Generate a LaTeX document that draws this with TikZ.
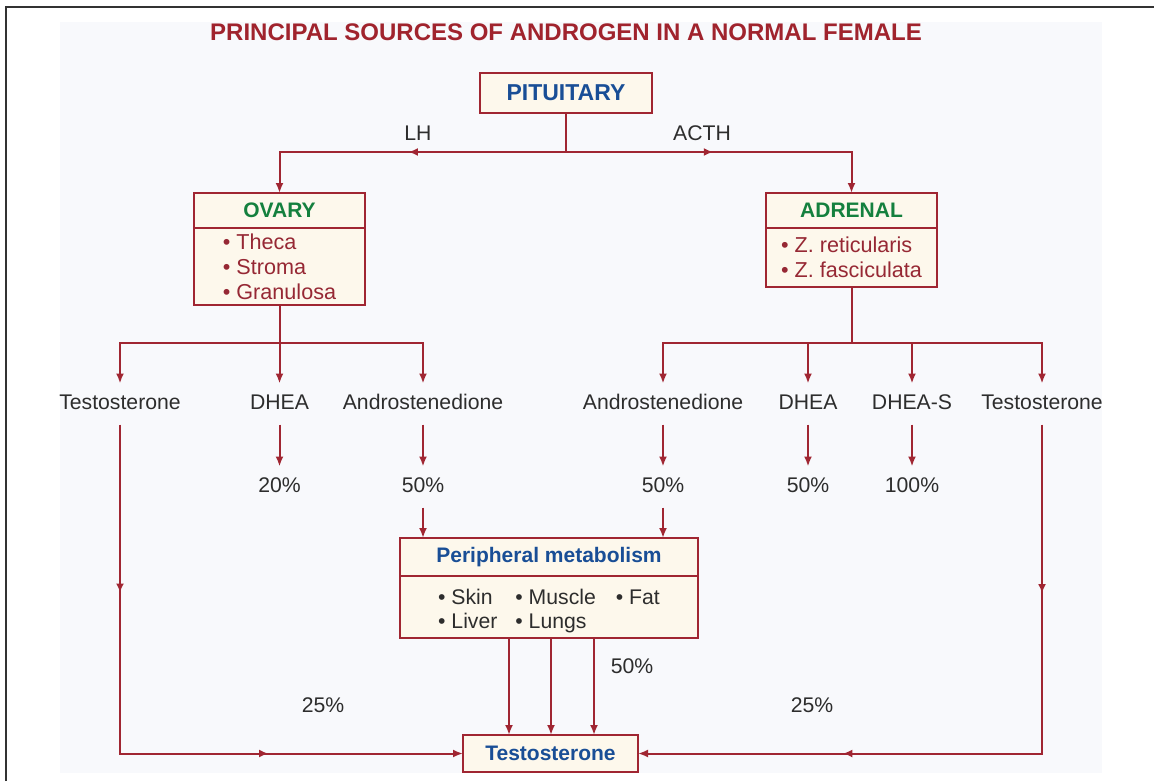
\documentclass[tikz,border=0pt]{standalone}
\usepackage{fontspec}
\setmainfont{Liberation Sans}
\usetikzlibrary{arrows.meta,positioning,decorations.markings}
\definecolor{linered}{RGB}{160,38,50}
\definecolor{titlered}{RGB}{160,35,45}
\definecolor{listred}{RGB}{150,40,52}
\definecolor{headblue}{RGB}{25,78,150}
\definecolor{headgreen}{RGB}{20,128,62}
\definecolor{boxfill}{RGB}{253,248,236}
\definecolor{bgblue}{RGB}{248,249,252}
\definecolor{textdark}{RGB}{45,45,45}
\definecolor{framegray}{RGB}{50,50,50}
\tikzset{
  >={Latex[length=5pt,width=4pt]},
  box/.style={
    draw=linered,
    line width=1pt,
    fill=boxfill,
    inner sep=0pt,
    outer sep=0pt
  },
  head/.style={
    box,
    minimum height=17.5pt,
    font=\fontsize{10.5}{12}\selectfont\bfseries
  },
  body/.style={
    box,
    align=left,
    text=listred,
    font=\fontsize{10.8}{12.5}\selectfont
  },
  chem/.style={
    inner sep=2.5pt,
    outer sep=3pt,
    text height=7.5pt,
    text depth=2pt,
    text=textdark,
    font=\fontsize{10.6}{12}\selectfont
  },
  link/.style={
    color=linered,
    line width=1pt
  },
  midarrow/.style={
    postaction={decorate,decoration={markings,
      mark=at position #1 with {\arrow{Latex[length=4.5pt,width=4pt]}}}}
  },
}
\begin{document}
\begin{tikzpicture}[x=0.5pt,y=-0.5pt]
  \useasboundingbox (0,0) rectangle (1154,781);
  \fill[white] (0,0) rectangle (1154,781);
  \fill[bgblue] (60,22) rectangle (1102,773);
  \draw[framegray, line width=1.3pt] (6,781) -- (6,7) -- (1154,7);

  \node[text=titlered, font=\fontsize{12}{14}\selectfont\bfseries] (title) at (566,32)
    {PRINCIPAL SOURCES OF ANDROGEN IN A NORMAL FEMALE};

  % pituitary
  \node[box, minimum width=86pt, minimum height=20pt, text=headblue,
    font=\fontsize{11.5}{13}\selectfont\bfseries] (pit) at (566,93) {PITUITARY};
  \coordinate (split) at (566,152);
  \node[chem] (lh) at (418,135) {LH};
  \node[chem] (acth) at (702,135) {ACTH};

  % ovary and adrenal
  \node[head, text=headgreen, minimum width=85.5pt] (ovaryh) at (279.5,210.5) {OVARY};
  \node[body, below=0pt of ovaryh, minimum width=85.5pt, minimum height=38.5pt] (ovaryb)
    {• Theca\\• Stroma\\• Granulosa};
  \node[head, text=headgreen, minimum width=85.5pt] (adrenalh) at (851.5,210.5) {ADRENAL};
  \node[body, below=0pt of adrenalh, minimum width=85.5pt, minimum height=29.5pt] (adrenalb)
    {• Z. reticularis\\• Z. fasciculata};

  \draw[link] (pit) -- (split);
  \draw[link,->,midarrow=0.48] (split) -| (ovaryh.north);
  \draw[link,->,midarrow=0.45] (split) -| (adrenalh.north);

  % products
  \coordinate (ovsplit) at (279.5,343);
  \coordinate (adsplit) at (851.5,343);
  \node[chem] (testL) at (120,404) {Testosterone};
  \node[chem] (dheaL) at (279.5,404) {DHEA};
  \node[chem] (andL) at (423,404) {Androstenedione};
  \node[chem] (andR) at (663,404) {Androstenedione};
  \node[chem] (dheaR) at (808,404) {DHEA};
  \node[chem] (dheasR) at (912,404) {DHEA-S};
  \node[chem] (testR) at (1042,404) {Testosterone};

  \draw[link] (ovaryb) -- (ovsplit);
  \draw[link,->] (ovsplit) -| (testL.north);
  \draw[link,->] (ovsplit) -- (dheaL.north);
  \draw[link,->] (ovsplit) -| (andL.north);
  \draw[link] (adrenalb) -- (adsplit);
  \foreach \n in {andR,dheaR,dheasR,testR}
    \draw[link,->] (adsplit) -| (\n.north);

  \node[chem] (pL1) at (279.5,487) {20\%};
  \node[chem] (pL2) at (423,487) {50\%};
  \node[chem] (pR1) at (663,487) {50\%};
  \node[chem] (pR2) at (808,487) {50\%};
  \node[chem] (pR3) at (912,487) {100\%};
  \draw[link,->] (dheaL) -- (pL1);
  \draw[link,->] (andL) -- (pL2);
  \draw[link,->] (andR) -- (pR1);
  \draw[link,->] (dheaR) -- (pR2);
  \draw[link,->] (dheasR) -- (pR3);

  % peripheral metabolism
  \node[head, text=headblue, minimum width=149pt, minimum height=19pt] (perih) at (549,557)
    {Peripheral metabolism};
  \node[body, below=0pt of perih, minimum width=149pt, minimum height=31pt, text=textdark,
    font=\fontsize{10.6}{12}\selectfont] (perib)
    {\raisebox{-2.5pt}[\height][\depth]{\begin{tabular}{@{}l@{\hspace{9pt}}l@{\hspace{10pt}}l@{}}
      • Skin & • Muscle & • Fat\\
      • Liver & • Lungs &
    \end{tabular}}};
  \draw[link,->] (pL2) -- (pL2 |- perih.north);
  \draw[link,->] (pR1) -- (pR1 |- perih.north);

  % testosterone
  \node[box, minimum width=87.5pt, minimum height=18.5pt, text=headblue,
    font=\fontsize{10.5}{12}\selectfont\bfseries] (testo) at (550.5,753.5) {Testosterone};
  \foreach \dx in {-20pt,1pt,22.5pt}
    \draw[link,->] ([xshift=\dx]perib.south) -- ([xshift=\dx]perib.south |- testo.north);
  \node[chem] (p50) at (632,668) {50\%};

  \draw[link,->,midarrow=0.25,midarrow=0.71] (testL) |- (testo);
  \draw[link,->,midarrow=0.23,midarrow=0.72] (testR) |- (testo);
  \node[chem] (p25L) at (323,707) {25\%};
  \node[chem] (p25R) at (812,707) {25\%};
\end{tikzpicture}
\end{document}
